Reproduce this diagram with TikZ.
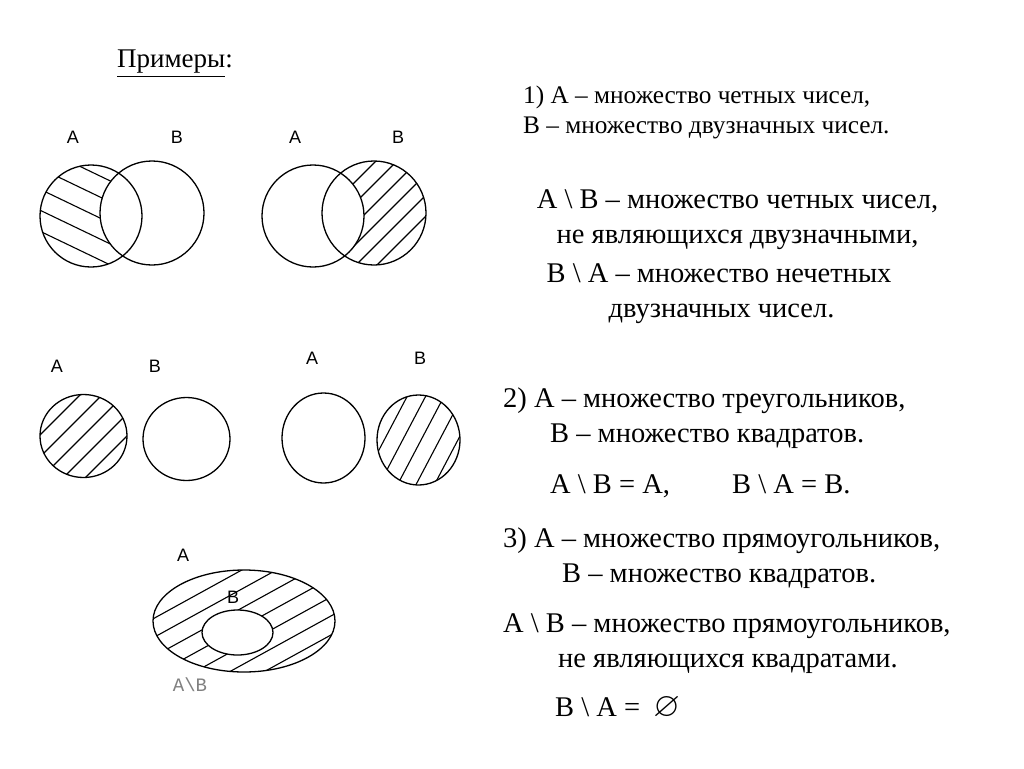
\documentclass[tikz,border=0pt]{standalone}
\usepackage{fontspec}
\usepackage{amssymb}
\usepackage{graphicx}
\setmainfont{Liberation Serif}
\newfontfamily\lsans{Liberation Sans}
\newfontfamily\lmono{Liberation Mono}
\begin{document}
\begin{tikzpicture}[x=1pt,y=-1pt,
  lab/.style={font=\lsans\fontsize{18}{20}\selectfont, inner sep=0pt},
  big/.style={font=\fontsize{28.5}{32}\selectfont, inner sep=0pt},
  mid/.style={font=\fontsize{25.3}{28}\selectfont, inner sep=0pt},
  outline/.style={line width=1.3pt},
  hatchline/.style={line width=1.1pt}]
\useasboundingbox[fill=white] (0,0) rectangle (1024,768);

% ---------- pair 1 : A \ B ----------
\begin{scope}
  \clip (91,216) circle[radius=51pt];
  \foreach \c in {128,149,170,191,212}
    \draw[hatchline] (0,\c) -- (300,\c+144);
  \fill[white] (152,213) circle[radius=52pt];
\end{scope}
\draw[outline] (91,216) circle[radius=51pt];
\draw[outline] (152,213) circle[radius=52pt];
\node[lab] (a1) at (73,137) {A};
\node[lab] (b1) at (177,137) {B};

% ---------- pair 2 : B \ A ----------
\begin{scope}
  \clip (374,213) circle[radius=52pt];
  \foreach \c in {537,558,579,600,621,642}
    \draw[hatchline] (250,\c-250) -- (500,\c-500);
  \fill[white] (313,216) circle[radius=51pt];
\end{scope}
\draw[outline] (313,216) circle[radius=51pt];
\draw[outline] (374,213) circle[radius=52pt];
\node[lab] (a2) at (295,137) {A};
\node[lab] (b2) at (398,137) {B};

% ---------- pair 3 ----------
\begin{scope}
  \clip (83.5,436) ellipse[x radius=43.5pt, y radius=41.5pt];
  \foreach \c in {475,497,519,541,563}
    \draw[hatchline] (20,\c-20) -- (150,\c-150);
\end{scope}
\draw[outline] (83.5,436) ellipse[x radius=43.5pt, y radius=41.5pt];
\draw[outline] (186.5,439) ellipse[x radius=43.5pt, y radius=41.5pt];
\node[lab] (a3) at (57,366) {A};
\node[lab] (b3) at (155,366) {B};

% ---------- pair 4 ----------
\begin{scope}
  \clip (418.5,440) ellipse[x radius=41.5pt, y radius=45pt];
  \foreach \k in {1170,1205,1240,1275,1310}
    \draw[hatchline] (350,\k-665) -- (480,\k-912);
\end{scope}
\draw[outline] (323.5,438) ellipse[x radius=41.5pt, y radius=45pt];
\draw[outline] (418.5,440) ellipse[x radius=41.5pt, y radius=45pt];
\node[lab] (a4) at (312,358) {A};
\node[lab] (b4) at (420,358) {B};

% ---------- nested ellipses ----------
\begin{scope}
  \clip (244,621) ellipse[x radius=91pt, y radius=51pt];
  \foreach \k in {703,722,741,760,779,798,817}
    \draw[hatchline] (140,\k-77) -- (350,\k-192.5);
  \fill[white] (237.5,632.5) ellipse[x radius=35.5pt, y radius=22.5pt];
\end{scope}
\draw[outline] (244,621) ellipse[x radius=91pt, y radius=51pt];
\draw[outline] (237.5,632.5) ellipse[x radius=35.5pt, y radius=22.5pt];
\node[lab] (a5) at (183,555) {A};
\node[lab] (b5) at (233,597) {B};
\node[font=\lmono\fontsize{19}{21}\selectfont, text=gray, inner sep=0pt] (ab) at (190,685) {A\textbackslash B};

% ---------- texts ----------
\node[font=\fontsize{27}{30}\selectfont, inner sep=0pt, anchor=base west] (title) at (117,67) {\underline{Примеры}:};

\node[mid, anchor=base west] (t1a) at (523,103) {1) А – множество четных чисел,};
\node[mid, anchor=base west] (t1b) at (523,133) {В – множество двузначных чисел.};

\node[big, anchor=base] (t2a) at (737.5,208) {А \textbackslash\ В – множество четных чисел,};
\node[big, anchor=base] (t2b) at (737.5,243) {не являющихся двузначными,};
\node[big, anchor=base] (t2c) at (719,282) {В \textbackslash\ А – множество нечетных};
\node[big, anchor=base] (t2d) at (721.5,317) {двузначных чисел.};

\node[big, anchor=base west] (t3a) at (503,407) {2) А – множество треугольников,};
\node[big, anchor=base west] (t3b) at (550,442) {В – множество квадратов.};
\node[big, anchor=base west] (t3c) at (550,493) {А \textbackslash\ В = А,};
\node[big, anchor=base west] (t3d) at (732,493) {В \textbackslash\ А = В.};

\node[big, anchor=base west] (t4a) at (503,547) {3) А – множество прямоугольников,};
\node[big, anchor=base west] (t4b) at (562,582) {В – множество квадратов.};
\node[big, anchor=base west] (t4c) at (503,632) {А \textbackslash\ В – множество прямоугольников,};
\node[big, anchor=base west] (t4d) at (558,667) {не являющихся квадратами.};
\node[big, anchor=base west] (t4e) at (555,716) {В \textbackslash\ А = \hspace{6pt}\scalebox{1.2}{$\varnothing$}};
\end{tikzpicture}
\end{document}
